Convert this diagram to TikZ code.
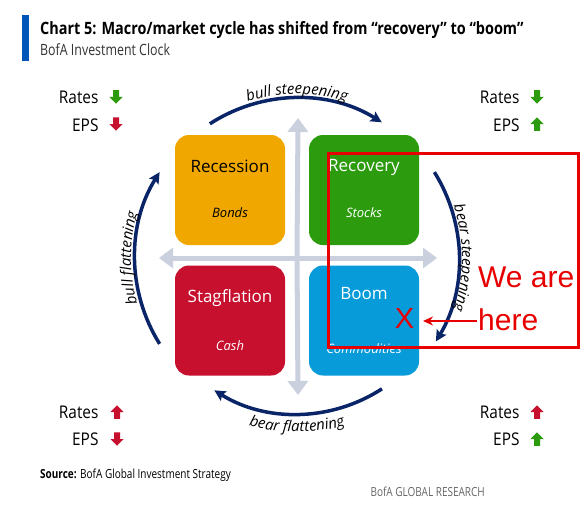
\documentclass[tikz,border=0pt]{standalone}
\usepackage{fontspec}
\setmainfont{Open Sans}
\newfontfamily\titlefont[FakeStretch=0.85]{Open Sans}
\newfontfamily\condfont[FakeStretch=0.8]{Open Sans}
\newfontfamily\midfont[FakeStretch=0.88]{Open Sans}
\newfontfamily\redfont{Liberation Sans}
\usetikzlibrary{arrows.meta,decorations.text}
\definecolor{bofablue}{RGB}{0,85,184}
\definecolor{crossgrey}{RGB}{203,208,223}
\definecolor{navy}{RGB}{10,36,104}
\definecolor{recorange}{RGB}{240,168,0}
\definecolor{recgreen}{RGB}{44,156,14}
\definecolor{stagred}{RGB}{198,16,46}
\definecolor{boomblue}{RGB}{8,155,218}
\definecolor{upgreen}{RGB}{44,156,14}
\definecolor{dnred}{RGB}{198,16,46}
\definecolor{markred}{RGB}{232,0,0}
\tikzset{
  quad/.style={rounded corners=14pt, minimum width=110pt, minimum height=110pt, inner sep=0pt},
  qtitle/.style={font=\fontsize{17}{20}\selectfont},
  qsub/.style={font=\itshape\fontsize{13}{15}\selectfont},
  crossarrow/.style={draw=crossgrey, line width=5pt, -{Triangle[width=20pt,length=14pt]}},
  cyclearc/.style={draw=navy, line width=3.5pt, -{Stealth[length=11pt,width=11pt,inset=2pt]}},
  blkup/.pic={\fill (-3,-6.75) -- (-3,0) -- (-6.5,0) -- (0,6.75) -- (6.5,0) -- (3,0) -- (3,-6.75) -- cycle;},
  blkdown/.pic={\fill (-3,6.75) -- (-3,0) -- (-6.5,0) -- (0,-6.75) -- (6.5,0) -- (3,0) -- (3,6.75) -- cycle;},
  ratelab/.style={anchor=base east, font=\midfont\fontsize{17.5}{20}\selectfont},
  arclab/.style={decorate, decoration={text along path, text align=center, text={|\itshape\fontsize{15}{17}\selectfont|#1}}},
}
\begin{document}
\begin{tikzpicture}[x=1pt,y=1pt]
\useasboundingbox (0,0) rectangle (585,-508);
\fill[white] (0,0) rectangle (585,-508);

% header
\fill[bofablue] (22,-15) rectangle (29,-61);
\node[anchor=base west, inner sep=0pt, font=\titlefont\bfseries\fontsize{17}{20}\selectfont] (title) at (40,-35) {Chart 5: Macro/market cycle has shifted from “recovery” to “boom”};
\node[anchor=base west, inner sep=0pt, text=black!80, font=\condfont\fontsize{15.5}{18}\selectfont] (subtitle) at (40,-56) {BofA Investment Clock};

% cross
\coordinate (c) at (297,-258);
\coordinate (cl) at (159,-258);
\coordinate (cr) at (437,-258);
\coordinate (ct) at (298,-118);
\coordinate (cb) at (298,-395);
\draw[crossarrow] (c) -- (cl);
\draw[crossarrow] (c) -- (cr);
\draw[crossarrow] (c) -- (ct);
\draw[crossarrow] (c) -- (cb);

% quadrants
\node[quad, fill=recorange] (rec) at (230,-190) {};
\node[quad, fill=recgreen] (recov) at (364,-190) {};
\node[quad, fill=stagred] (stag) at (230,-320.5) {};
\node[quad, fill=boomblue] (boom) at (364,-320.5) {};

\node[qtitle, text=black] (rect) at ([yshift=24pt]rec.center) {Recession};
\node[qsub, text=black] (recs) at ([yshift=-23pt]rec.center) {Bonds};
\node[qtitle, text=white] (recovt) at ([yshift=23pt]recov.center) {Recovery};
\node[qsub, text=white] (recovs) at ([yshift=-23pt]recov.center) {Stocks};
\node[qtitle, text=white] (stagt) at ([yshift=22pt]stag.center) {Stagflation};
\node[qsub, text=white] (stags) at ([yshift=-25pt]stag.center) {Cash};
\node[qtitle, text=white] (boomt) at ([yshift=27pt]boom.center) {Boom};
\node[qsub, text=white] (booms) at ([yshift=-28pt]boom.center) {Commodities};

% cycle arcs
\draw[cyclearc] ([shift={(123:160pt)}]c) arc[start angle=123, end angle=58, radius=160pt];
\draw[cyclearc] ([shift={(32:162pt)}]c) arc[start angle=32, end angle=-31, radius=162pt];
\draw[cyclearc] ([shift={(-57:156pt)}]c) arc[start angle=-57, end angle=-122, radius=156pt];
\draw[cyclearc] ([shift={(212:162pt)}]c) arc[start angle=212, end angle=148, radius=162pt];

% arc labels
\path[arclab={bull{ }steepening}] ([shift={(130:164pt)}]c) arc[start angle=130, end angle=50, radius=164pt];
\path[arclab={bear{ }steepening}] ([shift={(40:165pt)}]c) arc[start angle=40, end angle=-40, radius=165pt];
\path[arclab={bear{ }flattening}] ([shift={(-130:174pt)}]c) arc[start angle=-130, end angle=-50, radius=174pt];
\path[arclab={bull{ }flattening}] ([shift={(220:166pt)}]c) arc[start angle=220, end angle=140, radius=166pt];

% rates / eps
\node[ratelab] (r1) at (102,-103) {Rates};
\node[ratelab] (e1) at (102,-131) {EPS};
\pic[fill=upgreen] (r1a) at (116,-97) {blkdown};
\pic[fill=dnred] (e1a) at (116,-124) {blkdown};

\node[ratelab] (r2) at (523,-103) {Rates};
\node[ratelab] (e2) at (523,-131) {EPS};
\pic[fill=upgreen] (r2a) at (537,-97) {blkdown};
\pic[fill=upgreen] (e2a) at (537,-124) {blkup};

\node[ratelab] (r3) at (102,-418) {Rates};
\node[ratelab] (e3) at (102,-445) {EPS};
\pic[fill=dnred] (r3a) at (117,-412) {blkup};
\pic[fill=dnred] (e3a) at (117,-439) {blkdown};

\node[ratelab] (r4) at (523,-418) {Rates};
\node[ratelab] (e4) at (523,-445) {EPS};
\pic[fill=dnred] (r4a) at (537,-412) {blkup};
\pic[fill=upgreen] (e4a) at (537,-439) {blkup};

% footer
\node[anchor=base west, inner sep=0pt, font=\condfont\fontsize{12.5}{15}\selectfont] (source) at (40,-478) {\textbf{Source:} BofA Global Investment Strategy};
\node[anchor=base east, inner sep=0pt, text=black!60, font=\condfont\fontsize{12.5}{14}\selectfont] (brand) at (485,-496) {BofA GLOBAL RESEARCH};

% red annotation
\draw[markred, line width=3pt] (328,-153) rectangle (578,-347);
\node[anchor=base west, inner sep=0pt, text=markred, font=\redfont\fontsize{30}{34}\selectfont] (weare) at (478,-287) {We are};
\node[anchor=base west, inner sep=0pt, text=markred, font=\redfont\fontsize{30}{34}\selectfont] (here) at (478,-330) {here};
\node[inner sep=0pt, text=markred, font=\redfont\fontsize{29}{32}\selectfont] (xmark) at (404.5,-318.5) {X};
\coordinate (ras) at (477,-321);
\coordinate (rat) at (423,-321);
\draw[markred, line width=2pt, -{Stealth[length=10pt,width=9pt]}] (ras) -- (rat);
\end{tikzpicture}
\end{document}
